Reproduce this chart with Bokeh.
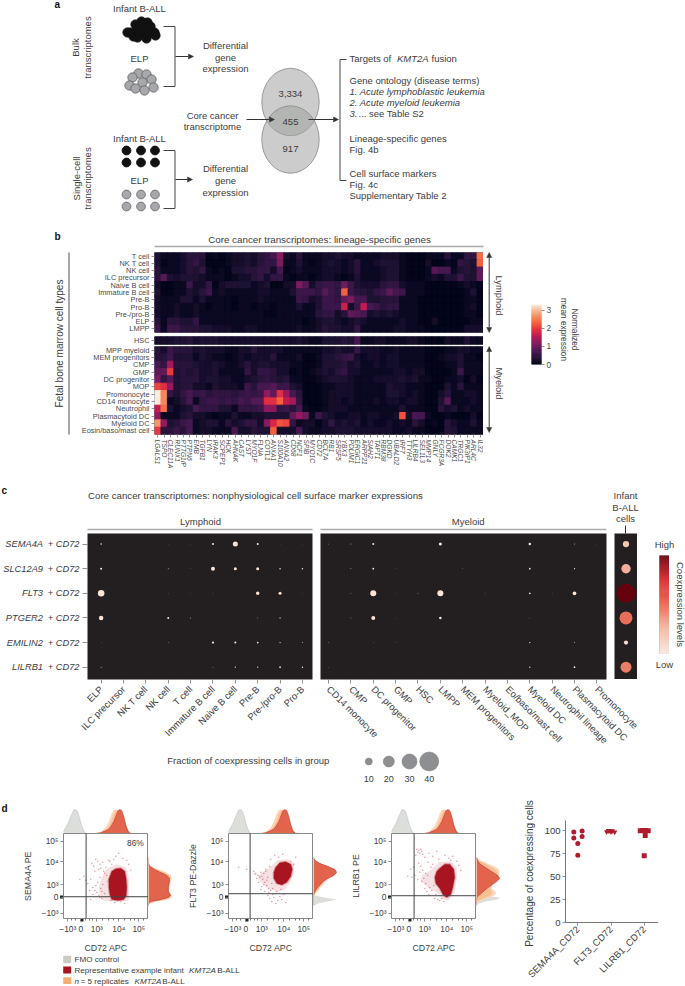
import math
import numpy as np
from bokeh.plotting import figure
from bokeh.models import (Range1d, FactorRange, FixedTicker, LinearColorMapper, Arrow, NormalHead, Column, LinearAxis)
from bokeh.core.properties import value
from bokeh.transform import transform
from bokeh.embed import file_html
from bokeh.resources import INLINE

FONT = "Liberation Sans"
TXT = "#3c3c3e"

# ---------- panel b data ----------
heat_genes = ["LGALS1","TSPO","CLEC11A","RUNX1","PTTG1IP","PTPN6","EMB","TGFB1","LYN","IRAK3","SCPEP1","HCK","AHNAK","CAST","LYST","MYO1F","FLNA","COTL1","ANXA1","S100A10","ANXA2","CD68","NCF1","SPIB","MYO1C","CD72","BCL7A","RB1","SRSF5","YBX3","PDLIM1","ERGIC1","ARPP21","SIAH2","TAPT1","RBM38","DGKD","UBALD2","IRF7","TTYH3","LILRB4","SEL1L3","MMP14","GNLY","FCGR3A","DOK2","CAMK1","TRGC1","PIK3IP1","ARL4C","IL32"]
lymphoid_rows = ["T cell","NK T cell","NK cell","ILC precursor","Naive B cell","Immature B cell","Pre-B","Pro-B","Pre-/pro-B","ELP","LMPP"]
hsc_rows = ["HSC"]
myeloid_rows = ["MPP myeloid","MEM progenitors","CMP","GMP","DC progenitor","MOP","Promonocyte","CD14 monocyte","Neutrophil","Plasmacytoid DC","Myeloid DC","Eosin/baso/mast cell"]
# expression x10
lymphoid_expr = [
[3,1,1,1,2,4,4,4,0,1,0,1,2,2,3,2,4,5,7,12,2,1,4,1,1,1,2,2,3,2,2,1,1,1,1,2,2,2,1,0,0,0,1,1,1,4,1,1,5,5,24],
[3,0,1,1,2,4,5,3,0,0,0,1,2,2,3,2,4,5,5,11,1,1,3,1,0,1,2,3,2,1,2,4,1,1,2,3,3,3,1,0,0,0,2,0,0,1,0,5,4,3,23],
[4,1,1,1,2,4,3,5,1,0,1,0,3,3,4,4,5,5,2,7,0,1,2,1,1,1,2,2,2,1,2,4,1,1,1,2,3,3,1,0,0,0,1,8,7,7,1,3,4,3,9],
[4,8,3,2,3,3,3,2,1,1,1,0,1,2,2,4,5,2,5,5,1,0,1,1,0,1,2,2,1,0,1,3,1,1,1,2,3,3,1,0,0,0,1,2,1,3,3,6,3,3,9],
[2,0,0,1,1,6,2,2,5,0,2,3,3,3,3,1,2,3,0,0,2,2,11,8,2,5,6,6,5,10,6,3,2,2,2,4,5,5,2,1,1,1,0,0,0,0,0,1,2,1,0],
[3,0,0,1,1,3,2,4,6,1,2,1,1,1,1,1,2,2,1,1,1,3,6,6,6,5,8,6,5,23,6,4,4,3,5,6,9,7,6,1,1,1,0,0,0,0,0,0,1,3,0],
[2,1,1,1,3,3,1,3,1,1,1,1,0,1,1,1,2,1,1,1,1,1,6,5,2,3,6,6,5,9,11,7,7,3,3,4,4,4,1,1,1,0,0,0,0,0,0,0,1,1,0],
[2,1,1,2,1,1,2,1,0,1,1,1,0,1,1,0,1,1,0,1,1,1,3,1,1,3,6,6,6,17,2,6,16,7,6,4,5,5,1,1,1,0,0,0,0,0,0,0,1,2,0],
[2,1,1,2,1,1,2,1,1,1,1,1,1,1,1,1,1,0,0,1,1,1,1,1,1,4,5,5,2,4,9,8,7,2,3,2,3,2,1,1,1,0,0,0,0,0,0,0,1,1,0],
[4,1,4,4,3,3,5,1,1,1,1,1,1,1,1,1,1,1,1,1,1,1,1,0,1,2,3,3,2,1,2,3,2,1,1,1,1,1,2,1,1,0,0,2,0,0,0,0,0,1,1],
[6,1,6,6,4,4,4,3,3,2,2,2,1,1,2,2,1,1,1,1,1,1,2,1,1,2,4,3,3,2,2,5,1,1,1,1,1,2,2,1,1,1,0,0,0,0,0,0,2,2,2],
]
hsc_expr = [[2,2,2,3,3,4,2,3,3,3,2,2,2,2,2,2,2,2,2,2,2,2,3,2,1,1,3,3,3,4,3,7,1,1,2,2,1,1,1,2,2,1,0,0,0,2,1,1,3,1,1]]
myeloid_expr = [
[4,2,6,4,4,4,2,3,2,2,2,1,1,2,2,4,2,2,2,2,1,1,1,1,1,1,2,2,3,2,2,5,2,2,2,1,1,2,1,1,1,1,0,0,0,1,1,2,2,1,1],
[4,4,6,3,3,3,1,3,2,1,1,0,1,2,1,2,2,2,4,1,1,1,2,0,0,1,3,3,4,5,6,2,1,2,2,1,2,2,1,1,1,1,0,0,1,2,2,3,1,1,0],
[7,5,14,4,4,4,3,2,2,3,2,1,1,2,4,2,3,3,2,2,2,1,1,0,0,1,3,3,3,4,2,3,1,1,2,1,2,2,1,1,1,1,0,0,0,1,1,3,1,1,1],
[9,9,20,3,4,3,4,2,2,3,1,1,1,1,5,2,5,5,4,2,2,0,1,0,1,2,3,2,4,5,2,2,1,1,1,1,1,2,2,1,2,2,0,0,0,0,1,6,1,1,1],
[11,5,8,3,4,4,4,2,3,3,2,2,1,1,2,3,4,5,4,3,4,1,1,0,0,1,2,3,3,3,2,1,1,1,2,2,2,2,3,2,3,1,1,0,0,1,1,2,0,2,0],
[21,19,13,3,4,4,2,2,1,3,2,2,2,1,6,4,7,7,8,6,6,3,2,0,0,0,1,1,2,2,2,1,1,1,1,1,3,2,2,1,1,1,0,0,0,3,1,4,1,1,1],
[33,26,5,3,5,7,5,6,4,5,5,5,4,5,6,5,6,13,9,19,13,7,4,0,0,0,1,2,2,2,2,1,1,1,1,1,3,3,2,1,2,1,0,0,2,4,1,1,2,2,1],
[33,26,1,2,4,7,1,5,6,6,5,6,5,7,6,8,8,19,19,23,16,14,5,0,0,0,1,2,2,1,2,1,1,1,2,1,2,2,1,2,2,1,0,0,3,8,1,1,1,2,1],
[16,24,3,1,2,3,7,5,5,5,3,3,1,5,5,5,6,12,12,5,6,4,7,1,0,0,1,2,2,2,1,1,1,1,1,1,1,1,3,1,1,1,0,0,4,2,3,1,2,1,1],
[13,1,1,1,3,4,2,2,1,0,1,1,3,1,1,2,2,3,3,3,3,9,13,10,1,6,3,2,1,1,2,2,1,2,2,1,1,2,22,2,7,7,1,0,0,1,0,0,0,2,0],
[27,13,3,4,6,7,1,2,3,3,1,4,2,3,5,5,2,12,18,22,21,5,1,2,2,0,2,5,2,3,2,3,1,2,1,1,2,1,2,1,4,2,0,1,0,4,2,1,1,3,1],
[20,4,4,6,4,7,1,2,2,1,1,1,7,2,2,4,3,3,23,2,2,2,7,2,1,1,2,2,3,3,3,2,2,2,2,2,2,1,1,2,1,1,0,0,0,4,3,1,1,1,1],
]
for block in (lymphoid_expr, hsc_expr, myeloid_expr):
    for r_i, r in enumerate(block):
        if len(r) != 51:
            raise ValueError(f"row {r_i} has {len(r)}")

# ---------- panel c data ----------
dot_pairs = ["SEMA4A","SLC12A9","FLT3","PTGER2","EMILIN2","LILRB1"]
lymphoid_cells = ["ELP","ILC precursor","NK T cell","NK cell","T cell","Immature B cell","Naive B cell","Pre-B","Pre-/pro-B","Pro-B"]
myeloid_cells = ["CD14 monocyte","CMP","DC progenitor","GMP","HSC","LMPP","MEM progenitors","Myeloid_MOP","Eo/baso/mast cell","Myeloid DC","Neutrophil lineage","Plasmacytoid DC","Promonocyte"]
# % of coexpressing cells
lymphoid_fraction = [
[2.1,0,0,0.6,0.6,2.9,7.2,2.9,0.7,0.6],
[2.9,0,0,1.4,0.7,5.7,4.3,4.3,2.1,2.1],
[9.3,0,0,0.6,0.6,0.6,0.4,5,4.3,0.6],
[6.4,0,0,2.9,1.4,0,0,1.1,1.7,0.4],
[0.7,0,0,1,0.4,3.1,2.9,2.4,1.7,1.4],
[1.4,0,0,0,0,1,1.7,1.7,2.4,2],
]
myeloid_fraction = [
[0.9,1.4,2.9,0.4,0,4.3,0,0.4,0.4,3.6,0.4,1.4,0.7],
[0.4,1.4,2.6,0.6,0,0,0.9,0,0,2.4,0.4,1.7,0.4],
[0.4,1.1,8.6,0.6,1.1,8.6,0,0.6,0.4,2.4,0.6,5.3,0.4],
[0.4,1.1,5.7,0.6,0,3.6,0.4,0.4,0.4,0.9,0.4,0.4,0.4],
[0.9,0.4,0.6,0.7,0,0,0,0.4,0.4,1.9,0.4,1.4,0.4],
[0.7,0.3,0,0,0,0.4,0,0.3,0.3,1.9,0.4,2.4,0.4],
]
infant_fraction = [9, 16, 40, 25, 6, 20]
infant_level = [0.2, 0.3, 1.0, 0.52, 0.08, 0.47]
fraction_levels = [10, 20, 30, 40]

# ---------- panel d data ----------
flow_x_ticks = [-13, 0, 16, 38, 58]
flow_x_minor = [-9, -5, 5, 9, 12, 22, 28, 33, 44, 50, 54, 63]
flow_x_labels = ["\u221210\u00b3", "0", "10\u00b3", "10\u2074", "10\u2075"]
flow_y_ticks = [-16, 0, 12.7, 35.7, 56]
flow_y_labels = ["\u221210\u00b3", "0", "10\u00b3", "10\u2074", "10\u2075"]
flow_names = ["SEMA4A PE", "FLT3 PE-Dazzle", "LILRB1 PE"]

flow1_core_u = [31,35,40,44,45.5,46,45.5,43,37,31,29,28,28]
flow1_core_v = [26,28.5,29,26,18,10,2,-2,-3,-2,3,10,18]
flow1_halo_u = [26,36,45,48,48,48,36,22,19,18,21]
flow1_halo_v = [29,33,30,20,8,-3,-4,-3,3,10,20]
flow2_core_u = [30,34,40,45,46.5,45,41,36,31,28,28]
flow2_core_v = [30,34.5,35.5,33,28,21,15,12.5,14,19,25]
flow2_halo_u = [24,32,42,48,48,44,38,30,20,14,12,18]
flow2_halo_v = [30,37,38,34,24,14,7,6,10,16,21,26]
flow3_core_u = [31,36,41,45,46,44,42,38,34,31,27,26,28]
flow3_core_v = [29,33,33,28,20,10,3,0,3,9,14,20,26]
flow3_halo_u = [22,30,42,48,48,46,40,34,28,20,12,13]
flow3_halo_v = [27,35,36,30,18,6,-3,-2,5,9,16,22]

flow1_u = [15,17,19,13,22,25,11,20,28,14,18,24,-1,3,5,7,10,12,15,17,19,21,16,18,20,22,24,26,14,12,10,23,25,27,9,19,21,29,31,33,35,38,42,46,48,50,30,34,40,44]
flow1_v = [38,36,33,31,35,30,34,29,37,26,28,24,18,21,17,14,18,10,12,15,20,6,5,2,9,13,4,22,7,3,-2,26,1,16,7,0,-1,36,33,38,41,44,39,37,33,27,-3,-5,-4,-6]
flow2_u = [-7,1,8,10,12,14,15,17,18,19,20,21,22,23,24,25,26,27,13,16,11,9,19,22,24,26,28,30,32,34,36,38,40,45,48,50,15,18,21,23,16,20,25,29,33,37,27,31,35,30]
flow2_v = [30,28,26,24,22,20,25,18,24,15,28,12,20,9,31,7,14,3,15,11,19,23,6,2,-1,-4,0,4,-3,1,-2,3,-5,36,33,40,8,13,17,5,21,26,38,42,40,43,9,6,8,-6]
flow3_u = [8,9,10,11,12,13,14,7,16,20,24,28,-1,3,6,9,11,2,5,13,15,17,19,21,18,20,16,14,23,25,12,10,22,24,27,29,31,33,35,40,44,48,50,52,30,36,42,19,26,17]
flow3_v = [48,45,47,44,48,46,43,42,40,44,41,46,21,20,22,18,25,28,30,16,19,14,22,10,6,3,9,27,7,12,31,34,30,33,3,-2,-3,-1,-4,39,41,36,32,27,38,42,37,35,-1,24]

top_u = [-18,-15,-12,-9,-7,-5,-3,-1,1,3,5,15,20,25,28,31,33,35,37,39,41,43,45,47,50]
top_grey  = [0.05,0.25,0.5,0.8,0.98,1,0.88,0.6,0.3,0.1,0,0,0,0,0,0,0,0,0,0,0,0,0,0,0]
top_or1   = [0,0,0,0,0,0,0,0,0,0,0,0,0.08,0.25,0.5,0.85,0.98,1,0.95,0.88,0.78,0.58,0.38,0.2,0]
top_or2   = [0,0,0,0,0,0,0,0,0,0,0,0,0.03,0.15,0.3,0.55,0.8,0.95,1,0.95,0.82,0.55,0.3,0.12,0]
top_red   = [0,0,0,0,0,0,0,0,0,0,0,0,0.03,0.12,0.18,0.35,0.5,0.72,0.93,1,0.95,0.7,0.35,0.1,0]

right_v = [-8,-6,-4,-2,0,2,4,6,8,10,13,16,19,22,25,28,31,34,37,40]
r1_grey = [0,0.05,0.3,0.8,0.55,0.1,0,0,0,0,0,0,0,0,0,0,0,0,0,0]
r1_or1  = [0,0.08,0.35,0.85,1,1,0.95,0.9,0.9,0.9,0.93,0.96,1,0.95,0.75,0.4,0.1,0.02,0,0]
r1_or2  = [0,0.04,0.25,0.75,0.92,0.95,0.9,0.86,0.86,0.87,0.9,0.93,0.94,0.88,0.66,0.32,0.06,0,0,0]
r1_red  = [0,0,0.1,0.55,0.85,0.95,0.9,0.85,0.85,0.85,0.87,0.9,0.9,0.78,0.5,0.25,0.05,0,0,0]
r2_grey = [0.05,0.2,0.6,1,0.45,0.08,0,0,0,0,0,0,0,0,0,0,0,0,0,0]
r2_or1  = [0,0,0,0,0,0.03,0.1,0.18,0.25,0.32,0.42,0.52,0.68,0.88,0.97,0.9,0.62,0.3,0.08,0]
r2_or2  = [0,0,0,0,0,0.01,0.06,0.12,0.18,0.25,0.35,0.47,0.65,0.88,0.98,0.9,0.6,0.27,0.06,0]
r2_red  = [0,0,0,0,0,0,0.02,0.06,0.12,0.18,0.3,0.42,0.62,0.88,1,0.9,0.6,0.25,0.05,0]
r3_grey = [0,0.1,0.4,0.9,1,0.3,0.05,0,0,0,0,0,0,0,0,0,0,0,0,0]
r3_or1  = [0,0.02,0.1,0.3,0.55,0.75,0.85,0.8,0.7,0.65,0.7,0.85,0.95,0.95,1,0.95,0.75,0.45,0.15,0.02]
r3_or2  = [0,0,0.05,0.2,0.4,0.6,0.68,0.65,0.6,0.6,0.7,0.85,0.95,0.93,0.9,0.8,0.6,0.35,0.1,0]
r3_red  = [0,0,0,0,0.02,0.1,0.2,0.3,0.4,0.5,0.68,0.88,1,0.9,0.7,0.5,0.3,0.12,0.04,0]

strip_cats = ["SEMA4A_CD72", "FLT3_CD72", "LILRB1_CD72"]
sema_offset = [-0.12,0.13,-0.12,0.13,0,0]
sema_pct = [98.5,99.6,92,93.5,85.9,73.2]
flt3_offset = [-0.13,-0.08,-0.04,0,0.04,0.11]
flt3_pct = [98.5,99.8,99.9,98.5,99.6,98.2]
lilrb1_offset = [-0.12,-0.04,0.04,0.12,0.03,0]
lilrb1_pct = [99.8,100,100,99.8,94.5,72.5]

# ---------- colour scales ----------
def ramp(stops, n=256):
    pos = np.array([s[0] for s in stops])
    rgb = np.array([[int(s[1][i:i+2], 16) for i in (1, 3, 5)] for s in stops], float)
    out = []
    for t in np.linspace(0, 1, n):
        c = [int(round(np.interp(t, pos, rgb[:, k]))) for k in range(3)]
        out.append("#%02x%02x%02x" % tuple(c))
    return out

rocket = ramp([(0,"#03051a"),(0.1,"#211336"),(0.2,"#41174e"),(0.3,"#6b1d5c"),(0.4,"#99195f"),(0.5,"#c81b50"),
               (0.6,"#e6363f"),(0.7,"#f3623f"),(0.8,"#f68c60"),(0.9,"#f8b795"),(1,"#faebdd")])
reds = ramp([(0,"#f8e9e2"),(0.25,"#f5bca6"),(0.5,"#e8735c"),(0.75,"#d92c2e"),(1,"#67000d")])
heat_map = LinearColorMapper(palette=rocket, low=0, high=33)

# ---------- placement ----------
def sub(x0, x1, y0, y1, xr, yr, bl=0, br=0, bt=0, bb=0):
    p = figure(frame_width=int(round(x1-x0)), frame_height=int(round(y1-y0)), x_range=xr, y_range=yr,
               min_border_left=bl, min_border_right=br, min_border_top=bt, min_border_bottom=bb,
               toolbar_location=None, output_backend="svg", border_fill_color=None, background_fill_color=None,
               outline_line_color=None, frame_align=False)
    p.grid.visible = False
    p.xaxis.visible = False
    p.yaxis.visible = False
    p.styles = {"position": "absolute", "left": f"{x0-bl}px", "top": f"{y0-bt}px"}
    return p

def style_axis(a, size="8px", color=TXT):
    a.visible = True
    a.major_label_text_font = FONT
    a.major_label_text_font_size = size
    a.major_label_text_color = color
    a.axis_line_color = None
    a.major_tick_line_color = "#777777"
    a.major_tick_in = 0
    a.major_tick_out = 3
    a.major_tick_line_width = 0.8
    a.minor_tick_line_color = None
    a.major_label_standoff = 2

figs = []
bg = figure(frame_width=685, frame_height=986, x_range=Range1d(0, 685), y_range=Range1d(986, 0), min_border=0,
            toolbar_location=None, output_backend="svg", outline_line_color=None, border_fill_color="white",
            x_axis_type=None, y_axis_type=None, frame_align=False)
bg.grid.visible = False
bg.styles = {"position": "absolute", "left": "0px", "top": "0px"}
figs.append(bg)

def T(s, x, y, size=9.5, align="left", angle=0, style="normal", color=TXT, base="middle"):
    bg.text(x=[x], y=[y], text=[s], text_font=value(FONT), text_font_size=f"{size}px", text_align=align,
            text_baseline=base, angle=angle, text_font_style=style, text_color=color)
def L(xs, ys, color="#444444", w=1.0):
    bg.line(xs, ys, line_color=color, line_width=w)
def A(x0, y0, x1, y1, both=False):
    h = lambda: NormalHead(size=5, fill_color="#333333", line_color="#333333", line_width=0.5)
    bg.add_layout(Arrow(end=h(), start=h() if both else None, x_start=x0, y_start=y0, x_end=x1, y_end=y1,
                        line_color="#333333", line_width=1))

V = math.pi/2
# ---------- panel a ----------
T("a", 54, 4, 10, style="bold", color="#111111")
T("Infant B-ALL", 139, 8, 9.5, "center")
T("ELP", 139, 58, 9.5, "center")
T("Bulk", 75, 47, 9.5, "center", V)
T("transcriptomes", 87, 47, 9.5, "center", V)
blk_x = [141,135,147,130,137,144,150,154,148,142,133,137,146,155,127,139]
blk_y = [21,24,22,32,28,28,26,32,33,33,36,37,38,35,32,31]
bg.circle(blk_x, blk_y, radius=4.6, fill_color="#111111", line_color="#111111")
gry_x = [138,146,132,151,129,142,135,153,144]
gry_y = [73,74,77,79,85,82,88,87,90]
bg.circle(gry_x, gry_y, radius=4.7, fill_color="#a7a8ac", line_color="#555555", line_width=0.7)
L([163,174.5,174.5,163],[26,26,86,86])
A(175,56,193,56)
for dy, s in zip((45,57,68),("Differential","gene","expression")):
    T(s, 225, dy, 9.5, "center")
T("Infant B-ALL", 139, 138, 9.5, "center")
T("ELP", 139, 180, 9.5, "center")
T("Single-cell", 76, 178, 9.5, "center", V)
T("transcriptomes", 87, 178, 9.5, "center", V)
b2x = [126,140.5,154.5]*2
bg.circle(b2x, [150]*3+[162]*3, radius=4.4, fill_color="#111111", line_color="#111111")
bg.circle(b2x, [194]*3+[206]*3, radius=4.4, fill_color="#a7a8ac", line_color="#555555", line_width=0.7)
L([163,174.5,174.5,163],[150,150,208,208])
A(175,179,192,179)
for dy, s in zip((168,180,192),("Differential","gene","expression")):
    T(s, 225, dy, 9.5, "center")
bg.ellipse([290,290],[101.5,139],width=57.4,height=67.4, fill_color="#a0a3a0", fill_alpha=0.55, line_color="#888888", line_width=0.8)
T("3,334", 290, 93, 9.5, "center"); T("455", 290, 121, 9.5, "center"); T("917", 290, 148, 9.5, "center")
T("Core cancer", 212, 114.5, 9.5, "center"); T("transcriptome", 212, 126, 9.5, "center")
A(246,119,274,119); A(308,119,338,119)
L([346,339.5,339.5,346],[59,59,180,180])
T("Targets of", 349, 58); T("KMT2A", 396.5, 58, style="italic"); T("fusion", 431, 58)
T("Gene ontology (disease terms)", 349, 80)
T("1. Acute lymphoblastic leukemia", 349, 91, style="italic")
T("2. Acute myeloid  leukemia", 349, 102, style="italic")
T("3.", 349, 113, style="italic"); T("... see Table S2", 358, 113)
T("Lineage-specific genes", 349, 138); T("Fig. 4b", 349, 149)
T("Cell surface markers", 349, 173); T("Fig. 4c", 349, 184); T("Supplementary Table 2", 349, 195)

# ---------- panel b ----------
T("b", 54, 236, 10, style="bold", color="#111111")
T("Core cancer transcriptomes: lineage-specific genes", 319, 238.5, 9.8, "center")
L([154,483],[246,246],"#aaaaaa",1.5)
L([68.5,68.5],[252,434],"#777777",1.3)
T("Fetal bone marrow cell types", 59, 343, 10, "center", V)
A(488.7,252,488.7,332,True); A(488.7,346,488.7,432,True)
T("Lymphoid", 498, 295, 9.3, "center", -V)
T("Myeloid", 498, 383, 9.3, "center", -V)
T("Normalized", 574, 329, 8.3, "center", -V)
T("mean expression", 563, 329, 8.3, "center", -V)

def heat(rows, matrix, y0, y1, xaxis=False):
    p = sub(154, 483, y0, y1, FactorRange(factors=heat_genes, range_padding=0), FactorRange(factors=rows[::-1], range_padding=0),
            bl=120, bt=6, bb=45 if xaxis else 6)
    p.background_fill_color = "#140f2a"
    xs, ys, vals = [], [], []
    for r, row in zip(rows, matrix):
        for g, v in zip(heat_genes, row):
            xs.append(g); ys.append(r); vals.append(v)
    c = transform("v", heat_map)
    p.rect(x="x", y="y", width=1, height=1, source=dict(x=xs, y=ys, v=vals), fill_color=c, line_color=c, line_width=0.9)
    style_axis(p.yaxis[0], "7.4px", "#4a4a4c")
    if xaxis:
        a = p.xaxis[0]
        style_axis(a, "6.6px", "#4a4a4c")
        a.major_label_orientation = "vertical"
        a.major_label_text_font_style = "italic"
    figs.append(p)
heat(lymphoid_rows, lymphoid_expr, 252, 332)
heat(hsc_rows, hsc_expr, 336, 344)
heat(myeloid_rows, myeloid_expr, 346, 434, True)

heat_levels = np.linspace(0, 33, 133)
heat_cols = [heat_map.palette[int(v/33*255)] for v in heat_levels[:-1]]
cb = sub(531, 541, 304, 364, Range1d(0,1), Range1d(0,33.2), br=16, bt=6, bb=6)
cb.quad(left=0, right=1, bottom=heat_levels[:-1], top=heat_levels[1:], fill_color=heat_cols, line_color=heat_cols, line_width=0.5)
cba = LinearAxis(ticker=FixedTicker(ticks=[0,10,20,30]), major_label_overrides={0:"0",10:"1",20:"2",30:"3"})
style_axis(cba, "8.3px", "#4a4a4c")
cb.add_layout(cba, "right")
figs.append(cb)

# ---------- panel c ----------
T("c", 1, 490, 10, style="bold", color="#111111")
T("Core cancer transcriptomes: nonphysiological cell surface marker expressions", 87.5, 495.3, 9.7)
T("Lymphoid", 200, 521, 9.5, "center")
L([87,312],[529,529],"#aaaaaa",1.5)
T("Myeloid", 467.7, 521, 9.5, "center")
L([320,606],[529,529],"#aaaaaa",1.5)
for yy, s in zip((495,507,518),("Infant","B-ALL","cells")):
    T(s, 625, yy, 9.5, "center")
L([625,625],[525,533],"#333333",1)
row_px = [543.7,568.3,592.9,617.5,642.1,666.7]
for name, yy in zip(dot_pairs, row_px):
    T(name, 42.5, yy, 9.3, "right", style="italic")
    T("+ CD72", 79, yy, 9.3, "right", style="italic")

def dsize(f):
    return np.interp(f, [0, 10, 20, 30, 40], [0, 7, 11, 15, 19])

def dots(cells, frac, x0, x1, xr, orient, yaxis=False):
    p = sub(x0, x1, 533, 679, xr, Range1d(5.5, -0.43), bl=50, br=90, bb=75)
    p.background_fill_color = "#231f20"
    xs, ys, ss = [], [], []
    for j, row in enumerate(frac):
        for i, f in enumerate(row):
            if f > 0:
                xs.append(i); ys.append(j); ss.append(float(dsize(f)))
    p.scatter(x=xs, y=ys, size=ss, marker="circle", fill_color="#fde3d6", line_color=None)
    a = p.xaxis[0]
    style_axis(a, "9.5px", TXT)
    a.ticker = FixedTicker(ticks=list(range(len(cells))))
    a.major_label_overrides = {i: c for i, c in enumerate(cells)}
    a.major_label_orientation = orient
    a.major_tick_out = 4
    a.major_label_standoff = 4
    if yaxis:
        y = p.yaxis[0]
        style_axis(y)
        y.ticker = FixedTicker(ticks=list(range(len(dot_pairs))))
        y.major_label_text_color = None
        y.major_label_text_font_size = "1px"
        y.major_tick_out = 5
    figs.append(p)
dots(lymphoid_cells, lymphoid_fraction, 87, 312, Range1d(-0.61, 9.45), math.pi/4, True)
dots(myeloid_cells, myeloid_fraction, 320, 606, Range1d(-0.36, 12.43), -math.pi/4)

inf = sub(614, 637, 533, 679, Range1d(-0.5, 0.5), Range1d(5.5, -0.43))
inf.background_fill_color = "#231f20"
inf.scatter(x=[0]*6, y=list(range(6)), size=[float(dsize(f)) for f in infant_fraction], marker="circle",
            fill_color=[reds[int(v*255)] for v in infant_level], line_color=None)
figs.append(inf)

lv = np.linspace(0, 1, 101)
lv_cols = [reds[int(v*255)] for v in lv[:-1]]
cbar2 = sub(659, 669, 555, 654, Range1d(0,1), Range1d(0,1))
cbar2.outline_line_color = "#bbbbbb"
cbar2.quad(left=0, right=1, bottom=lv[:-1], top=lv[1:], fill_color=lv_cols, line_color=lv_cols, line_width=0.5)
figs.append(cbar2)
T("High", 664, 544, 9.5, "center"); T("Low", 664, 664, 9.5, "center")
T("Coexpression levels", 680, 604, 9.5, "center", -V)

T("Fraction of coexpressing cells in group", 166.7, 760, 9.5)
leg_x = [368.3, 388.3, 409, 428.7]
bg.scatter(x=leg_x, y=[761]*4, size=[float(dsize(f)) for f in fraction_levels], marker="circle", fill_color="#8e8f93", line_color="#777777", line_width=0.5)
for xx, f in zip(leg_x, fraction_levels):
    T(str(f), xx, 778, 9, "center")

# ---------- panel d ----------
T("d", 1, 808, 10, style="bold", color="#111111")
RED, OR1, OR2, GREY = "#e2644d", "#fbd7b8", "#f8bf94", "#dcded9"
flow_defs = [
    (63, 5.3, 0.7, flow1_core_u, flow1_core_v, flow1_halo_u, flow1_halo_v, flow1_u, flow1_v, (r1_grey, r1_or1, r1_or2, r1_red), 0),
    (228, 4.3, 3.7, flow2_core_u, flow2_core_v, flow2_halo_u, flow2_halo_v, flow2_u, flow2_v, (r2_grey, r2_or1, r2_or2, r2_red), 1),
    (391, 5.3, 1.7, flow3_core_u, flow3_core_v, flow3_halo_u, flow3_halo_v, flow3_u, flow3_v, (r3_grey, r3_or1, r3_or2, r3_red), 2),
]
for x0, gu, gv, cu, cv, hu, hv, su, sv, rights, idx in flow_defs:
    xr = (-17.3, 67.7); yr = (-21, 63.7)
    t = sub(x0, x0+85, 808, 833, Range1d(*xr), Range1d(0, 1.04))
    for arr, col in ((top_grey, GREY), (top_or1, OR1), (top_or2, OR2), (top_red, RED)):
        t.varea(x=top_u, y1=[0]*len(top_u), y2=arr, fill_color=col)
    t.line(top_u, top_grey, line_color="#bfc1bb", line_width=0.6)
    t.line(top_u, top_red, line_color="#c8352b", line_width=0.6)
    figs.append(t)
    r = sub(x0+85, x0+109, 833, 918, Range1d(0, 1.03), Range1d(*yr))
    for arr, col in ((rights[0], GREY), (rights[1], OR1), (rights[2], OR2), (rights[3], RED)):
        r.harea(y=right_v, x1=[0]*len(right_v), x2=arr, fill_color=col)
    r.line(rights[3], right_v, line_color="#c8352b", line_width=0.6)
    figs.append(r)
    p = sub(x0, x0+85, 833, 918, Range1d(*xr), Range1d(*yr), bl=50, bb=34)
    p.outline_line_color = "#888888"
    p.patch(hu, hv, fill_color="#c8424a", fill_alpha=0.16, line_color=None)
    p.patch(cu, cv, fill_color="#a8141f", line_color="#a8141f", line_alpha=0.35, line_width=2)
    p.scatter(x=su, y=sv, size=1.5, marker="circle", fill_color="#c8303f", fill_alpha=0.5, line_color=None)
    p.ray(x=[gu], y=[yr[0]], length=90, angle=V, line_color="#444444", line_width=1)
    p.ray(x=[xr[0]], y=[gv], length=90, angle=0, line_color="#444444", line_width=1)
    xa = p.xaxis[0]; ya = p.yaxis[0]
    style_axis(xa, "8.4px"); style_axis(ya, "8.4px")
    xa.ticker = FixedTicker(ticks=flow_x_ticks, minor_ticks=flow_x_minor)
    xa.minor_tick_line_color = "#777777"; xa.minor_tick_out = 2; xa.minor_tick_in = 0
    xa.major_label_overrides = dict(zip(flow_x_ticks, flow_x_labels))
    ya.ticker = FixedTicker(ticks=flow_y_ticks)
    ya.major_label_overrides = dict(zip(flow_y_ticks, flow_y_labels))
    xa.axis_label = "CD72 APC"; ya.axis_label = flow_names[idx]
    for a in (xa, ya):
        a.axis_label_text_font = FONT
        a.axis_label_text_font_size = "8.8px"
        a.axis_label_text_font_style = "normal"
        a.axis_label_text_color = TXT
        a.axis_label_standoff = 6
    figs.append(p)
    if idx == 0:
        p.text(x=[63], y=[54], text=["86%"], text_font=value(FONT), text_font_size="8.4px", text_align="right",
               text_baseline="middle", text_color=TXT)
    bg.scatter(x=[x0+18.5, x0-2], y=[919.5, 896.5], size=3, marker="square", fill_color="#222222", line_color=None)

bg.quad(left=[62.7]*3, right=[70.7]*3, top=[955.3,966,976.7], bottom=[962.7,973,983.5],
        fill_color=["#c9cbc4","#a8141f","#f6ae72"], line_color=None)
T("FMO control", 74, 959, 8.1)
T("Representative example infant", 74, 970, 8.1); T("KMT2A", 188.5, 970, 8.1, style="italic"); T("B-ALL", 216.7, 970, 8.1)
T("n", 74, 981, 8.1, style="italic"); T("= 5 replicates", 80, 981, 8.1); T("KMT2A", 134, 981, 8.1, style="italic"); T("B-ALL", 161.8, 981, 8.1)

st = sub(565, 658, 820, 922, Range1d(-0.37, 2.43), Range1d(0, 110.9), bl=42, bb=62)
C = "#b01c2e"
st.scatter(x=[0+o for o in sema_offset], y=sema_pct, size=5, marker="circle", fill_color=C, line_color=None)
st.scatter(x=[1+o for o in flt3_offset], y=flt3_pct, size=5.5, marker="inverted_triangle", fill_color=C, line_color=None)
st.scatter(x=[2+o for o in lilrb1_offset], y=lilrb1_pct, size=5, marker="square", fill_color=C, line_color=None)
xa = st.xaxis[0]; ya = st.yaxis[0]
style_axis(xa, "9.5px"); style_axis(ya, "9.5px")
for a in (xa, ya):
    a.axis_line_color = "#777777"
    a.major_tick_out = 3
xa.ticker = FixedTicker(ticks=[0,1,2])
xa.major_label_overrides = {i: c for i, c in enumerate(strip_cats)}
xa.major_label_orientation = math.pi/4
ya.ticker = FixedTicker(ticks=[0,25,50,75,100])
figs.append(st)
T("Percentage of coexpressing cells", 529, 873, 10, "center", V)

root = Column(children=figs, width=685, height=986, sizing_mode="fixed",
              styles={"position": "absolute", "left": "0px", "top": "0px"})
open("out.html", "w").write(file_html(root, INLINE))
